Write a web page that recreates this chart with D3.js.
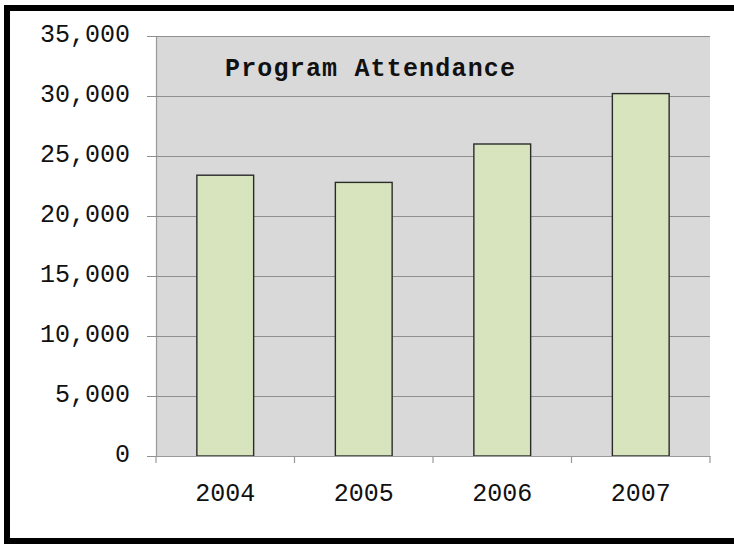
<!DOCTYPE html>
<html>
<head>
<meta charset="utf-8">
<script src="https://cdn.jsdelivr.net/npm/d3@7"></script>
<style>
  html, body { margin: 0; padding: 0; background: #ffffff; }
  svg { display: block; }
</style>
</head>
<body>
<svg id="chart" width="734" height="544"></svg>
<script>
const categories = ["2004", "2005", "2006", "2007"];
const attendance = [23400, 22800, 26000, 30200];
const yTicks = [0, 5000, 10000, 15000, 20000, 25000, 30000, 35000];
const chartTitle = "Program Attendance";

const svg = d3.select("#chart");
const W = 734, H = 544;
const plot = { left: 156, right: 710, top: 36, bottom: 456 };

// outer frame
svg.append("rect").attr("x", 7).attr("y", 8).attr("width", W + 20).attr("height", 533)
  .attr("fill", "#ffffff").attr("stroke", "#000000").attr("stroke-width", 6);

const x = d3.scaleBand().domain(categories).range([plot.left, plot.right]).paddingInner(0.59).paddingOuter(0.295);
const xb = d3.scaleBand().domain(categories).range([plot.left, plot.right]);
const y = d3.scaleLinear().domain([0, 35000]).range([plot.bottom, plot.top]);

// plot background
svg.append("rect").attr("x", plot.left).attr("y", plot.top)
  .attr("width", plot.right - plot.left).attr("height", plot.bottom - plot.top)
  .attr("fill", "#d9d9d9");

// gridlines + y ticks
const fmt = d3.format(",");
const yAxis = d3.axisLeft(y).tickValues(yTicks).tickFormat(fmt)
  .tickSizeInner(-(plot.right - plot.left)).tickSizeOuter(0).tickPadding(0);
const gy = svg.append("g").attr("transform", `translate(${plot.left},0)`).call(yAxis);
gy.select(".domain").attr("stroke", "#999999").attr("stroke-width", 1.2);
gy.selectAll(".tick line").attr("stroke", "#8f8f8f").attr("stroke-width", 1.2).attr("x1", -9);
gy.selectAll(".tick text")
  .attr("x", -26).attr("dy", null).attr("y", 5)
  .attr("font-family", "'Liberation Mono', 'Courier New', monospace")
  .attr("font-size", 25).attr("fill", "#111111").attr("text-anchor", "end");

// bars
svg.append("g").selectAll("rect").data(categories).join("rect")
  .attr("x", d => x(d)).attr("width", x.bandwidth())
  .attr("y", (d, i) => y(attendance[i]))
  .attr("height", (d, i) => y(0) - y(attendance[i]))
  .attr("fill", "#d7e4bd").attr("stroke", "#2b2b2b").attr("stroke-width", 1.4);

// x axis
const xAxis = d3.axisBottom(xb).tickSize(0).tickPadding(0);
const gx = svg.append("g").attr("transform", `translate(0,${plot.bottom})`).call(xAxis);
gx.select(".domain").attr("stroke", "#999999").attr("stroke-width", 1.2);
gx.selectAll(".tick text")
  .attr("y", 45).attr("dy", null)
  .attr("font-family", "'Liberation Mono', 'Courier New', monospace")
  .attr("font-size", 25).attr("fill", "#111111");
// category boundary ticks
const bounds = categories.map(c => xb(c)).concat([plot.right]);
svg.append("g").selectAll("line").data(bounds).join("line")
  .attr("x1", d => d).attr("x2", d => d)
  .attr("y1", plot.bottom).attr("y2", plot.bottom + 7)
  .attr("stroke", "#999999").attr("stroke-width", 1.2);

// title
svg.append("text").attr("x", 225).attr("y", 76)
  .attr("font-family", "'Liberation Mono', 'Courier New', monospace")
  .attr("font-size", 25).attr("font-weight", "bold").attr("fill", "#111111")
  .attr("textLength", 290).attr("lengthAdjust", "spacing")
  .text(chartTitle);
</script>
</body>
</html>
